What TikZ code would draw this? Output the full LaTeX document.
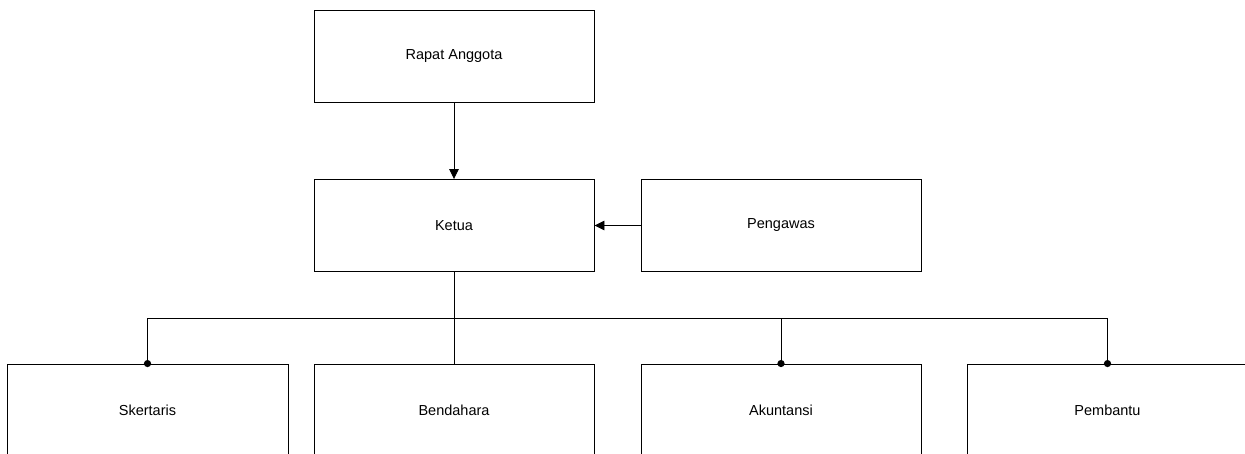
\documentclass[tikz,border=0pt]{standalone}
\usepackage{fontspec}
\setmainfont{Liberation Sans}
\usetikzlibrary{arrows.meta}
\begin{document}
\begin{tikzpicture}[x=1pt,y=1pt,
  box/.style={draw=black, line width=0.9pt, minimum width=280pt, minimum height=92pt, inner sep=0pt, font=\fontsize{14.5}{17}\selectfont},
  conn/.style={draw=black, line width=0.9pt},
  arr/.style={conn, -{Triangle[length=10pt,width=9.5pt]}},
  dot/.style={fill=black}]
\useasboundingbox (0,0) rectangle (1245,-454);
\clip (0,0) rectangle (1245,-454);
\node[box] (rapat) at (454,-56) {Rapat Anggota};
\node[box] (ketua) at (454,-225.5) {Ketua};
\node[box] (pengawas) at (781,-225.5) {Pengawas};
\node[box, minimum width=281pt] (skertaris) at (147.5,-410) {Skertaris};
\node[box] (bendahara) at (454,-410) {Bendahara};
\node[box] (akuntansi) at (781,-410) {Akuntansi};
\node[box] (pembantu) at (1107.5,-410) {Pembantu};
\coordinate (bus) at (454,-318);
\draw[arr] (rapat) -- (ketua);
\draw[arr] (pengawas) -- (ketua);
\draw[conn] (ketua.south) -- (bus);
\draw[conn] (bus) -| (skertaris.north);
\draw[conn] (bus) -- (bendahara.north);
\draw[conn] (bus) -| (akuntansi.north);
\draw[conn] (bus) -| (pembantu.north);
\fill[dot] (skertaris.north) circle (3.6pt);
\fill[dot] (akuntansi.north) circle (3.6pt);
\fill[dot] (pembantu.north) circle (3.6pt);
\end{tikzpicture}
\end{document}
